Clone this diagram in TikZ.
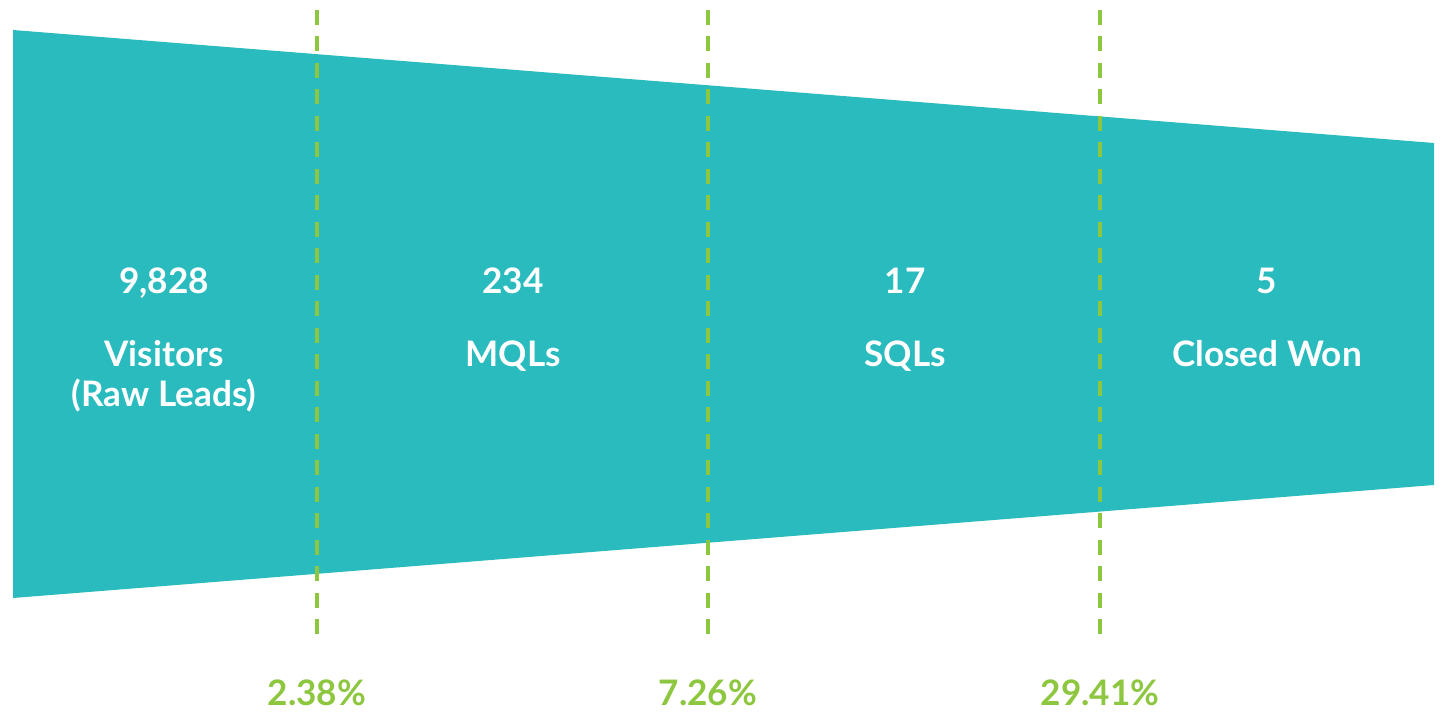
\documentclass[tikz,border=0pt]{standalone}
\usepackage{fontspec}
\setmainfont{Lato}
\definecolor{myteal}{RGB}{42,187,190}
\definecolor{mygreen}{RGB}{141,198,63}
\usetikzlibrary{positioning}

\begin{document}
\begin{tikzpicture}[x=0.02cm,y=-0.02cm,
        every node/.style={inner sep=0pt,font=\fontsize{20}{23}\selectfont\bfseries},
        stage/.style={text=white,align=center},
        rate/.style={text=mygreen},
        cut/.style={mygreen,line width=2.3pt,dash pattern=on 0.3cm off 0.23cm}
        ]
        \useasboundingbox (0,0) rectangle (1446,726);

        % the funnel
        \coordinate (tl) at (13,30);
        \coordinate (tr) at (1434,143);
        \coordinate (br) at (1434,485);
        \coordinate (bl) at (13,598);
        \fill[myteal] (tl) -- (tr) -- (br) -- (bl) -- cycle;

        % the cuts between stages
        \coordinate (c1t) at (317,10);
        \coordinate (c1b) at (317,636);
        \coordinate (c2t) at (708,10);
        \coordinate (c2b) at (708,636);
        \coordinate (c3t) at (1100,10);
        \coordinate (c3b) at (1100,636);
        \draw[cut] (c1t) -- (c1b);
        \draw[cut] (c2t) -- (c2b);
        \draw[cut] (c3t) -- (c3b);

        % the stages
        \node[stage,anchor=base] (n1) at (164,293) {9,828};
        \node[stage,anchor=base] (n2) at (513,293) {234};
        \node[stage,anchor=base] (n3) at (905,293) {17};
        \node[stage,anchor=base] (n4) at (1267,293) {5};
        \node[stage,below=2.28cm of n1.base,anchor=base] (s1) {Visitors\\(Raw Leads)};
        \node[stage,below=1.48cm of n2.base,anchor=base] (s2) {MQLs};
        \node[stage,below=1.48cm of n3.base,anchor=base] (s3) {SQLs};
        \node[stage,below=1.48cm of n4.base,anchor=base] (s4) {Closed Won};

        % the conversion rates
        \node[rate,below=1.4cm of c1b,anchor=base] (r1) {2.38\%};
        \node[rate,below=1.4cm of c2b,anchor=base] (r2) {7.26\%};
        \node[rate,below=1.4cm of c3b,anchor=base] (r3) {29.41\%};
        \end{tikzpicture}
\end{document}
